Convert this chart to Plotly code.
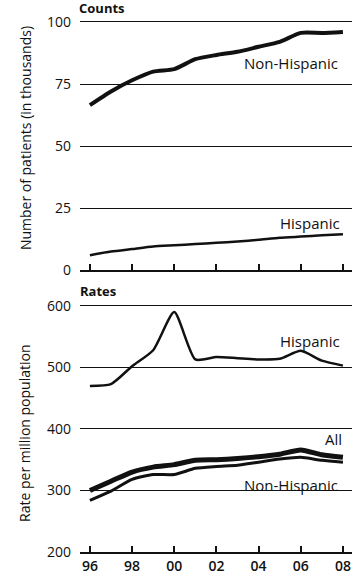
import plotly.graph_objects as go
from plotly.subplots import make_subplots

# Years and tick labels
years = list(range(1996, 2009))
tick_years = [1996, 1998, 2000, 2002, 2004, 2006, 2008]
tick_labels = ["96", "98", "00", "02", "04", "06", "08"]

# Counts (thousands of patients)
counts_non_hispanic = [66.5, 72.0, 76.5, 80.0, 81.0, 85.0, 86.7, 88.0, 90.0, 92.0, 95.6, 95.6, 96.0]
counts_hispanic = [6.0, 7.5, 8.5, 9.5, 10.0, 10.5, 11.0, 11.5, 12.2, 13.0, 13.5, 14.0, 14.5]

# Rates (per million population)
rates_hispanic = [470, 473, 502, 528, 590, 513, 517, 515, 513, 514, 527, 511, 503]
rates_all = [300, 315, 330, 338, 342, 349, 350, 352, 355, 359, 366, 358, 354]
rates_non_hispanic = [284, 299, 318, 326, 326, 336, 339, 341, 346, 351, 354, 349, 346]

FONT = "Open Sans"
INK = "#111111"

fig = make_subplots(rows=2, cols=1, shared_xaxes=False, vertical_spacing=0.06)

line_style = dict(color=INK, shape="spline", smoothing=0.6)

fig.add_trace(go.Scatter(x=years, y=counts_non_hispanic, mode="lines",
                         line=dict(width=4, **line_style), hoverinfo="skip"), row=1, col=1)
fig.add_trace(go.Scatter(x=years, y=counts_hispanic, mode="lines",
                         line=dict(width=2.5, **line_style), hoverinfo="skip"), row=1, col=1)

fig.add_trace(go.Scatter(x=years, y=rates_hispanic, mode="lines",
                         line=dict(width=2.5, **line_style), hoverinfo="skip"), row=2, col=1)
fig.add_trace(go.Scatter(x=years, y=rates_non_hispanic, mode="lines",
                         line=dict(width=3, **line_style), hoverinfo="skip"), row=2, col=1)
fig.add_trace(go.Scatter(x=years, y=rates_all, mode="lines",
                         line=dict(width=5, **line_style), hoverinfo="skip"), row=2, col=1)

# Plot area: left 80px, right 6px, top 17px, bottom 25px
W, H = 358, 581
ML, MR, MT, MB = 80, 6, 17, 25
PW, PH = W - ML - MR, H - MT - MB


def px(x):
    return (x - ML) / PW


def py(y):
    return (H - MB - y) / PH


xaxis_common = dict(
    range=[1995.53, 2008.43], tickvals=tick_years, ticktext=tick_labels,
    ticks="inside", ticklen=6, tickwidth=1.5, tickcolor=INK,
    showline=True, linecolor=INK, linewidth=2, showgrid=False, zeroline=False,
    tickfont=dict(family=FONT, size=14, color=INK, weight=600),
)
fig.update_xaxes(**xaxis_common)
fig.update_xaxes(showticklabels=False, row=1, col=1)

yaxis_common = dict(
    showline=False, zeroline=False, showgrid=True, gridcolor=INK, gridwidth=1.3,
    ticks="", ticklabelstandoff=8, tickfont=dict(family=FONT, size=14, color=INK),
)
fig.update_yaxes(range=[0, 102], tickvals=[0, 25, 50, 75, 100], row=1, col=1, **yaxis_common)
fig.update_yaxes(range=[200, 605], tickvals=[200, 300, 400, 500, 600], row=2, col=1, **yaxis_common)

fig.update_layout(
    xaxis=dict(domain=[0, 1]), xaxis2=dict(domain=[0, 1]),
    yaxis=dict(domain=[(H - MB - 272) / PH, 1]),
    yaxis2=dict(domain=[0, (H - MB - 305) / PH]),
)

annotations = [
    ("Non-Hispanic", 291, 63, 15, 0),
    ("Hispanic", 310, 225, 15, 0),
    ("Hispanic", 310, 343, 15, 0),
    ("All", 333, 442, 15, 0),
    ("Non-Hispanic", 291, 489, 15, 0),
    ("<b>Counts</b>", 102, 8, 13, 0),
    ("<b>Rates</b>", 98, 293, 13, 0),
    ("Number of patients (in thousands)", 25, 139, 14, -90),
    ("Rate per million population", 25, 437, 14, -90),
]
for text, x, y, size, angle in annotations:
    fig.add_annotation(text=text, x=px(x), y=py(y), xref="paper", yref="paper",
                       xanchor="center", yanchor="middle", showarrow=False,
                       textangle=angle, font=dict(family=FONT, size=size, color=INK))

fig.update_layout(
    width=W, height=H, margin=dict(l=ML, r=MR, t=MT, b=MB),
    paper_bgcolor="white", plot_bgcolor="white", showlegend=False,
)

fig.write_html("out.html", config={"displayModeBar": False})
